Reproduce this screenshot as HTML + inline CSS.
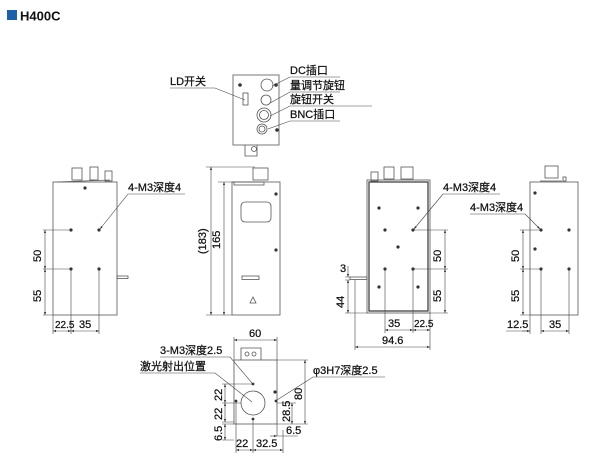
<!DOCTYPE html>
<html><head><meta charset="utf-8"><style>
html,body{margin:0;padding:0;background:#fff;}
svg{display:block;}
text{font-family:"Liberation Sans Narrow","Liberation Sans","Noto Sans CJK SC",sans-serif;fill:#111;font-size:11px;stroke:#111;stroke-width:0.25;}
</style></head><body>
<svg width="600" height="470" viewBox="0 0 600 470" xmlns="http://www.w3.org/2000/svg">
<defs>
<marker id="a" viewBox="0 0 6 6" refX="6" refY="3" markerWidth="5" markerHeight="5" orient="auto-start-reverse"><path d="M0,0.8 L6,3 L0,5.2z" fill="#333"/></marker>
</defs>
<rect x="7" y="10" width="10" height="10" fill="#1f5fa8"/>
<text x="20" y="20.5" style="font-size:13px;font-weight:bold;font-family:'Liberation Sans',sans-serif;stroke:none">H400C</text>

<g fill="none" stroke="#555" stroke-width="0.8">
<rect x="233" y="75" width="46" height="70"/>
<circle cx="267" cy="85" r="6"/><circle cx="266" cy="100" r="5"/>
<circle cx="264" cy="115" r="7"/><circle cx="264" cy="115" r="4.5"/>
<circle cx="262" cy="129" r="5"/><circle cx="262" cy="129" r="3"/>
<rect x="243" y="93" width="5" height="12"/>
<path d="M245,145 V156 H257 V145"/><circle cx="254" cy="149" r="2.5"/>
<rect x="53" y="182" width="64" height="133"/>
<rect x="72" y="168" width="10" height="12"/><rect x="90" y="167" width="8" height="13"/><rect x="105" y="171" width="7" height="10"/>
<path d="M57,182 L110,180"/>
<rect x="117" y="276" width="11" height="2.5"/>
<rect x="232" y="182" width="48" height="133"/>
<rect x="241" y="202" width="30" height="20" rx="4"/>
<rect x="242" y="276" width="17" height="3.5"/>
<path d="M250,303 L253,297 L256,303z"/>
<rect x="253" y="168" width="15" height="12"/><rect x="234" y="182" width="30" height="3"/>
<rect x="367" y="180" width="63" height="133"/>
<rect x="369" y="182" width="59" height="129" stroke="#333" stroke-width="1.2"/>
<rect x="371" y="172" width="7" height="9"/><rect x="384" y="167" width="10" height="12"/><rect x="401" y="167" width="12" height="12"/>
<rect x="350" y="277" width="17" height="2.5"/>
<rect x="530" y="182" width="48" height="133"/>
<rect x="545" y="166" width="13" height="12"/><path d="M540,181 H562"/><rect x="563" y="177" width="3" height="4"/>
<rect x="234" y="360" width="43" height="64"/>
<path d="M241,360 V348 H261 V360"/><circle cx="247" cy="354" r="2"/><circle cx="254" cy="354" r="2"/>
<circle cx="253" cy="403" r="12"/>
</g>

<g fill="#333">
<circle cx="240" cy="85" r="1.8"/><circle cx="276" cy="85" r="1.8"/><circle cx="277" cy="130" r="1.8"/>
<circle cx="85" cy="188" r="1.6"/>
<circle cx="71" cy="230" r="1.6"/><circle cx="99" cy="230" r="1.6"/><circle cx="71" cy="269" r="1.6"/><circle cx="99" cy="269" r="1.6"/>
<circle cx="276" cy="194" r="1.6"/><circle cx="276" cy="250" r="1.6"/>
<circle cx="379" cy="208" r="1.6"/><circle cx="418" cy="208" r="1.6"/><circle cx="385" cy="230" r="1.6"/><circle cx="413" cy="230" r="1.6"/><circle cx="398" cy="247" r="1.6"/><circle cx="385" cy="269" r="1.6"/><circle cx="413" cy="269" r="1.6"/><circle cx="379" cy="287" r="1.6"/><circle cx="418" cy="287" r="1.6"/>
<circle cx="535" cy="193" r="1.6"/><circle cx="535" cy="249" r="1.6"/>
<circle cx="541" cy="230" r="1.6"/><circle cx="569" cy="230" r="1.6"/><circle cx="541" cy="269" r="1.6"/><circle cx="569" cy="269" r="1.6"/>
<circle cx="253" cy="384" r="1.4"/><circle cx="236" cy="401" r="1.4"/><circle cx="253" cy="419" r="1.4"/><circle cx="276" cy="401" r="1.4"/><circle cx="275" cy="392" r="1.6"/>
</g>

<g fill="none" stroke="#444" stroke-width="0.6">
<path d="M170,88 H215 L245,100"/>
<path d="M340,77 H290 L272,86"/>
<path d="M340,92 H290 L270,103"/>
<path d="M372,106 H290 L270,116"/>
<path d="M340,121 H290 L268,129"/>
<path d="M128,194 H185" /><path d="M128,194 L100,229" marker-end="url(#a)"/>
<path d="M43,230 H70 M43,269 H70 M43,315 H53"/>
<path d="M45,230 V269" marker-start="url(#a)" marker-end="url(#a)"/>
<path d="M45,269 V315" marker-start="url(#a)" marker-end="url(#a)"/>
<path d="M71,269 V334 M99,269 V334 M53,315 V334"/>
<path d="M53,331 H71" marker-start="url(#a)" marker-end="url(#a)"/>
<path d="M71,331 H99" marker-start="url(#a)" marker-end="url(#a)"/>
<path d="M206,167 H255 M218,182 H234 M206,315 H232"/>
<path d="M211,167 V315" marker-start="url(#a)" marker-end="url(#a)"/>
<path d="M224,182 V315" marker-start="url(#a)" marker-end="url(#a)"/>
<path d="M443,194 H500"/><path d="M443,194 L414,229" marker-end="url(#a)"/>
<path d="M414,230 H448 M414,269 H448 M430,313 H448"/>
<path d="M445,230 V269" marker-start="url(#a)" marker-end="url(#a)"/>
<path d="M445,269 V313" marker-start="url(#a)" marker-end="url(#a)"/>
<path d="M385,269 V333 M413,269 V333 M430,313 V350 M355,280 V350"/>
<path d="M385,330 H413" marker-start="url(#a)" marker-end="url(#a)"/>
<path d="M413,330 H430" marker-start="url(#a)" marker-end="url(#a)"/>
<path d="M355,347 H430" marker-start="url(#a)" marker-end="url(#a)"/>
<path d="M345,277 H350 M345,280 H350 M345,313 H367"/>
<path d="M348,266 V277" marker-end="url(#a)"/>
<path d="M348,280 V313" marker-start="url(#a)" marker-end="url(#a)"/>
<path d="M470,214 H525"/><path d="M525,214 L540,229" marker-end="url(#a)"/>
<path d="M520,230 H540 M520,269 H540 M520,315 H530"/>
<path d="M523,230 V269" marker-start="url(#a)" marker-end="url(#a)"/>
<path d="M523,269 V315" marker-start="url(#a)" marker-end="url(#a)"/>
<path d="M541,269 V334 M569,269 V334 M530,315 V334"/>
<path d="M506,331 H530" /><path d="M522,331 H530" marker-end="url(#a)"/>
<path d="M541,331 H569" marker-start="url(#a)" marker-end="url(#a)"/>
<path d="M234,337 V360 M277,337 V360"/>
<path d="M234,340 H277" marker-start="url(#a)" marker-end="url(#a)"/>
<path d="M160,357 H230 L252,383" /><path d="M140,373 H215 L252,402"/>
<path d="M385,377 H313 L277,400"/>
<path d="M277,360 H308 M277,424 H308"/>
<path d="M305,360 V424" marker-start="url(#a)" marker-end="url(#a)"/>
<path d="M277,403 H296"/>
<path d="M292,403 V424" marker-start="url(#a)" marker-end="url(#a)"/>
<path d="M222,384 H253 M222,403 H241 M222,422 H234 M222,424 H234 M222,440 H234"/>
<path d="M225,384 V403" marker-start="url(#a)" marker-end="url(#a)"/>
<path d="M225,403 V422" marker-start="url(#a)" marker-end="url(#a)"/>
<path d="M225,424 V440" marker-start="url(#a)" marker-end="url(#a)"/>
<path d="M236,402 V453 M253,420 V453 M283,430 V453 M277,424 V436"/>
<path d="M236,450 H253" marker-start="url(#a)" marker-end="url(#a)"/>
<path d="M253,450 H283" marker-start="url(#a)" marker-end="url(#a)"/>
<path d="M270,436 H277" marker-end="url(#a)"/><path d="M298,436 H277"/>
</g>

<g>
<text x="170" y="85">LD开关</text>
<text x="290" y="74">DC插口</text>
<text x="290" y="89">量调节旋钮</text>
<text x="290" y="103">旋钮开关</text>
<text x="290" y="118">BNC插口</text>
<text x="128" y="191">4-M3深度4</text>
<text x="443" y="191">4-M3深度4</text>
<text x="470" y="211">4-M3深度4</text>
<text x="55" y="328" style="font-size:10px">22.5</text>
<text x="79" y="328">35</text>
<text x="388" y="327">35</text>
<text x="414" y="327" style="font-size:10px">22.5</text>
<text x="382" y="344">94.6</text>
<text x="507" y="328">12.5</text>
<text x="549" y="328">35</text>
<text x="249" y="337">60</text>
<text x="160" y="354">3-M3深度2.5</text>
<text x="140" y="370">激光射出位置</text>
<text x="313" y="374">φ3H7深度2.5</text>
<text x="236" y="447">22</text>
<text x="256" y="447">32.5</text>
<text x="286" y="434">6.5</text>
<text x="340" y="272">3</text>
<g transform="translate(41,255) rotate(-90)"><text x="-7" y="0">50</text></g>
<g transform="translate(41,295) rotate(-90)"><text x="-7" y="0">55</text></g>
<g transform="translate(206,240) rotate(-90)"><text x="-14" y="0">(183)</text></g>
<g transform="translate(220,240) rotate(-90)"><text x="-9" y="0">165</text></g>
<g transform="translate(441,255) rotate(-90)"><text x="-7" y="0">50</text></g>
<g transform="translate(441,295) rotate(-90)"><text x="-7" y="0">55</text></g>
<g transform="translate(344,301) rotate(-90)"><text x="-7" y="0">44</text></g>
<g transform="translate(519,255) rotate(-90)"><text x="-7" y="0">50</text></g>
<g transform="translate(519,295) rotate(-90)"><text x="-7" y="0">55</text></g>
<g transform="translate(302,393) rotate(-90)"><text x="-7" y="0">80</text></g>
<g transform="translate(290,412) rotate(-90)"><text x="-10" y="0">28.5</text></g>
<g transform="translate(222,394) rotate(-90)"><text x="-7" y="0">22</text></g>
<g transform="translate(222,413) rotate(-90)"><text x="-7" y="0">22</text></g>
<g transform="translate(222,433) rotate(-90)"><text x="-8" y="0">6.5</text></g>
</g>
</svg>
</body></html>
